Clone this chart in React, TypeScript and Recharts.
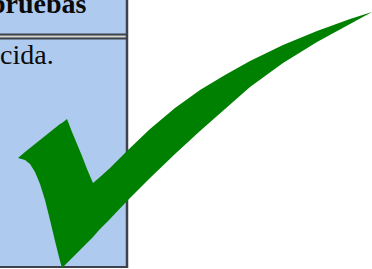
import { ComposedChart, Area, XAxis, YAxis, ReferenceArea, ReferenceLine } from 'recharts';

// outline of the check mark (pixel-like units, y grows downward)
const checkX = [18, 25, 30, 35, 40, 45, 50, 55, 60, 62, 67, 72, 77, 82, 87, 93, 100, 110, 128, 150, 175, 200, 225, 250, 283, 317, 350, 372];
const checkTop = [158, 152, 148, 144, 140, 136, 132, 128, 124, 123, 119, 132, 144, 156, 169, 183, 177, 168, 150, 129, 108, 90, 75, 61, 45, 31, 19, 12];
const checkBottom = [158, 160, 164, 172, 184, 200, 220, 241, 261, 268, 263, 258, 253, 248, 243, 237, 229, 219, 200, 178, 154, 131, 109, 87, 63, 42, 24, 12];

// table cell behind it
const cellRight = 127;
const cellBottom = 267;
const rowBorders = [34.5, 38.5];
const cellTexts = ['pruebas', 'cida.'];

const data = checkX.map((x, i) => ({ x, band: [checkBottom[i], checkTop[i]] }));

const W = 372;
const H = 269;

export default function App() {
  return (
    <div
      style={{
        position: 'absolute',
        left: 0,
        top: 0,
        width: W,
        height: H,
        overflow: 'hidden',
        background: '#fff',
      }}
    >
      <ComposedChart width={W} height={H} data={data} margin={{ top: 0, right: 0, bottom: 0, left: 0 }}>
        <XAxis type="number" dataKey="x" domain={[0, W]} hide allowDataOverflow />
        <YAxis type="number" domain={[0, H]} reversed hide allowDataOverflow />
        <ReferenceArea x1={0} x2={cellRight} y1={0} y2={cellBottom} fill="#aecbef" fillOpacity={1} stroke="none" />
        <ReferenceLine
          segment={[
            { x: 0, y: (rowBorders[0] + rowBorders[1]) / 2 },
            { x: cellRight, y: (rowBorders[0] + rowBorders[1]) / 2 },
          ]}
          stroke="#d9d3c4"
          strokeWidth={2}
        />
        {rowBorders.map((y) => (
          <ReferenceLine
            key={y}
            segment={[
              { x: 0, y },
              { x: cellRight, y },
            ]}
            stroke="#3d424c"
            strokeWidth={2}
          />
        ))}
        <ReferenceLine
          segment={[
            { x: 0, y: cellBottom },
            { x: cellRight + 1, y: cellBottom },
          ]}
          stroke="#3d424c"
          strokeWidth={2}
        />
        <ReferenceLine
          segment={[
            { x: cellRight, y: 0 },
            { x: cellRight, y: cellBottom + 1 },
          ]}
          stroke="#3d424c"
          strokeWidth={2.5}
        />
        <Area
          type="linear"
          dataKey="band"
          stroke="none"
          fill="#008000"
          fillOpacity={1}
          isAnimationActive={false}
          zIndex={900}
        />
      </ComposedChart>
      <div
        style={{
          position: 'absolute',
          left: -10,
          top: -10,
          fontFamily: '"Liberation Serif", serif',
          fontWeight: 'bold',
          fontSize: 28,
          lineHeight: '28px',
          color: '#0a0a0a',
          whiteSpace: 'nowrap',
        }}
      >
        {cellTexts[0]}
      </div>
      <div
        style={{
          position: 'absolute',
          left: 0,
          top: 41,
          fontFamily: '"Liberation Serif", serif',
          fontSize: 28,
          lineHeight: '28px',
          color: '#0a0a0a',
          whiteSpace: 'nowrap',
        }}
      >
        {cellTexts[1]}
      </div>
    </div>
  );
}
